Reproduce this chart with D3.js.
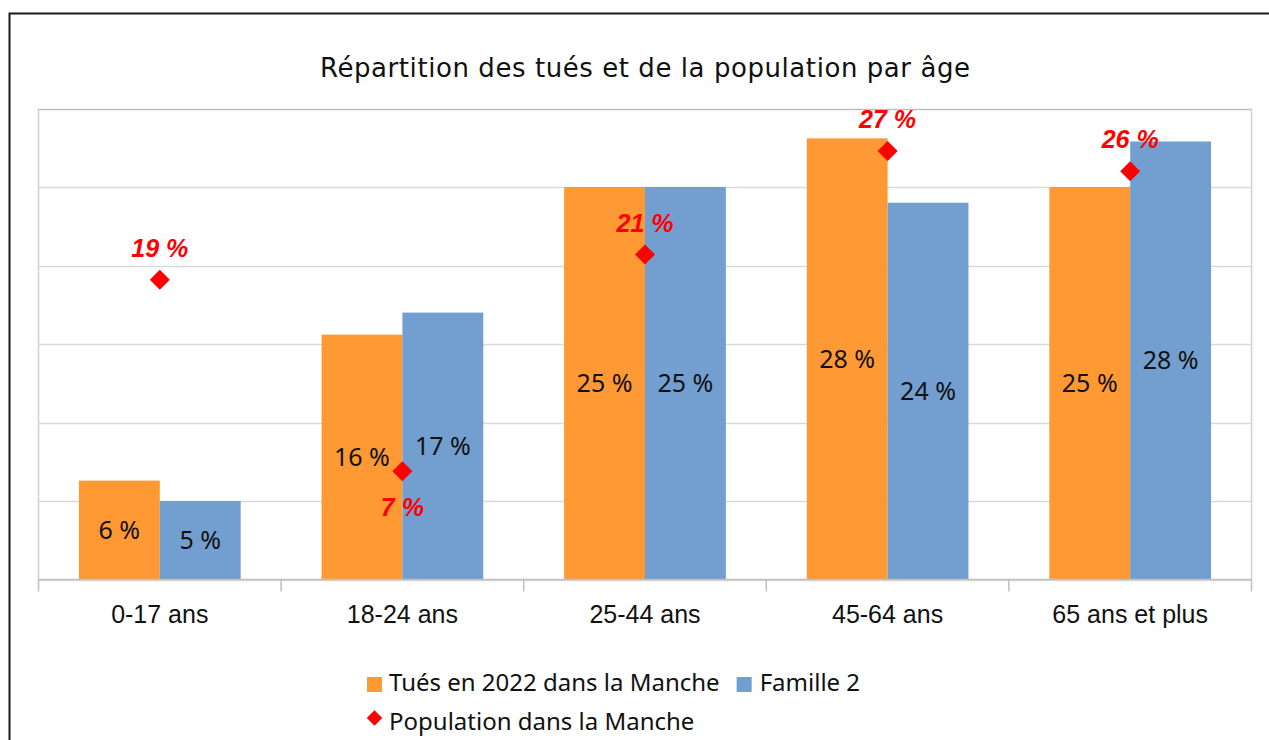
<!DOCTYPE html>
<html>
<head>
<meta charset="utf-8">
<script src="https://cdn.jsdelivr.net/npm/d3@7"></script>
<style>
  html, body { margin: 0; padding: 0; background: #fff; }
  svg { display: block; }
</style>
</head>
<body>
<svg id="chart" width="1269" height="740"></svg>
<script>
// Data (percent). Labels show the rounded value.
const categories = ["0-17 ans", "18-24 ans", "25-44 ans", "45-64 ans", "65 ans et plus"];
const tues = [6.3, 15.6, 25, 28.1, 25];
const famille2 = [5, 17, 25, 24, 27.9];
const population = [19.1, 6.9, 20.7, 27.3, 26];
const yTicks = [0, 5, 10, 15, 20, 25, 30];
const seriesNames = ["Tués en 2022 dans la Manche", "Famille 2", "Population dans la Manche"];

const ORANGE = "#ff9933",
    BLUE = "#729fcf",
    RED = "#ff0000",
    LABEL_FONT = "'Noto Sans', 'Open Sans', sans-serif",
    TITLE_FONT = "'DejaVu Sans', 'Noto Sans', sans-serif",
    AXIS_FONT = "'Liberation Sans', Arial, sans-serif";

const fmt = (v) => Math.round(v) + " %";

const svg = d3.select("#chart");

// Outer frame of the chart (runs off the right and bottom edges).
svg.append("rect")
    .attr("x", 9.5).attr("y", 13.5)
    .attr("width", 1300).attr("height", 800)
    .attr("fill", "none")
    .attr("stroke", "#1a1a1a")
    .attr("stroke-width", 2);

// Plot area.
const plot = { left: 38.5, right: 1251.5, top: 108.5, bottom: 579.5 };

const x = d3.scaleBand()
    .domain(categories)
    .range([plot.left, plot.right])
    .padding(0);

const bw = x.bandwidth();

// Two bars per category, gap of half a bar on each side.
const x1 = d3.scaleBand()
    .domain(["tues", "famille2"])
    .range([bw / 6, bw * 5 / 6])
    .padding(0);

const y = d3.scaleLinear()
    .domain([0, 30])
    .range([plot.bottom, plot.top]);

// Gridlines.
svg.append("g")
    .selectAll("line")
    .data(yTicks)
    .enter()
    .append("line")
    .attr("x1", plot.left)
    .attr("x2", plot.right)
    .attr("y1", (d) => Math.round(y(d)) + 0.5)
    .attr("y2", (d) => Math.round(y(d)) + 0.5)
    .attr("stroke", (d) => d == 30 ? "#bfbfbf" : "#d9d9d9")
    .attr("stroke-width", 1.5);

// Plot area sides.
svg.append("line")
    .attr("x1", plot.left).attr("x2", plot.left)
    .attr("y1", plot.top).attr("y2", plot.bottom)
    .attr("stroke", "#d0d0d0").attr("stroke-width", 1.5);
svg.append("line")
    .attr("x1", plot.right).attr("x2", plot.right)
    .attr("y1", plot.top).attr("y2", plot.bottom)
    .attr("stroke", "#d0d0d0").attr("stroke-width", 1.5);

// Bars.
const rows = categories.map((c, i) => ({ cat: c, tues: tues[i], famille2: famille2[i], pop: population[i] }));

const groups = svg.append("g")
    .selectAll("g")
    .data(rows)
    .enter()
    .append("g")
    .attr("transform", (d) => "translate(" + x(d.cat) + ",0)");

const bars = groups.selectAll("rect")
    .data((d) => [
        { key: "tues", value: d.tues, color: ORANGE },
        { key: "famille2", value: d.famille2, color: BLUE }
    ])
    .enter();

bars.append("rect")
    .attr("x", (d) => x1(d.key))
    .attr("y", (d) => y(d.value))
    .attr("width", x1.bandwidth())
    .attr("height", (d) => plot.bottom - y(d.value))
    .attr("fill", (d) => d.color);

// Bar value labels, centred in each bar.
bars.append("text")
    .attr("x", (d) => x1(d.key) + x1.bandwidth() / 2)
    .attr("y", (d) => (y(d.value) + plot.bottom) / 2)
    .attr("dy", "0.36em")
    .attr("text-anchor", "middle")
    .attr("font-family", LABEL_FONT)
    .attr("font-size", 25)
    .attr("fill", "#111")
    .text((d) => fmt(d.value));

// X axis line and tick marks.
svg.append("line")
    .attr("x1", plot.left).attr("x2", plot.right)
    .attr("y1", plot.bottom).attr("y2", plot.bottom)
    .attr("stroke", "#bfbfbf").attr("stroke-width", 1.5);

const boundaries = categories.map((c) => x(c)).concat([x(categories[categories.length - 1]) + bw]);
svg.append("g")
    .selectAll("line")
    .data(boundaries)
    .enter()
    .append("line")
    .attr("x1", (d) => d).attr("x2", (d) => d)
    .attr("y1", plot.bottom).attr("y2", plot.bottom + 12)
    .attr("stroke", "#bfbfbf").attr("stroke-width", 1.5);

// Category labels.
svg.append("g")
    .selectAll("text")
    .data(categories)
    .enter()
    .append("text")
    .attr("x", (d) => x(d) + bw / 2)
    .attr("y", 623)
    .attr("text-anchor", "middle")
    .attr("font-family", AXIS_FONT)
    .attr("font-size", 25)
    .attr("fill", "#111")
    .text((d) => d);

// Population markers (diamonds) and their red labels.
const diamond = d3.symbol().type(d3.symbolSquare).size(200);

const markers = svg.append("g")
    .selectAll("g")
    .data(rows)
    .enter()
    .append("g");

markers.append("path")
    .attr("d", diamond)
    .attr("transform", (d) => "translate(" + (x(d.cat) + bw / 2) + "," + y(d.pop) + ") rotate(45)")
    .attr("fill", RED);

// The 7 % label sits below its marker, the others above.
markers.append("text")
    .attr("x", (d) => x(d.cat) + bw / 2)
    .attr("y", (d) => y(d.pop) + (d.pop < 10 ? 36 : -32))
    .attr("dy", "0.36em")
    .attr("text-anchor", "middle")
    .attr("font-family", AXIS_FONT)
    .attr("font-size", 25)
    .attr("font-weight", "bold")
    .attr("font-style", "italic")
    .attr("fill", RED)
    .text((d) => fmt(d.pop));

// Title.
svg.append("text")
    .attr("x", 645)
    .attr("y", 77)
    .attr("text-anchor", "middle")
    .attr("font-family", TITLE_FONT)
    .attr("font-size", 26)
    .attr("fill", "#111")
    .attr("textLength", 650)
    .attr("lengthAdjust", "spacing")
    .text("Répartition des tués et de la population par âge");

// Legend.
const legend = svg.append("g").attr("font-family", LABEL_FONT).attr("font-size", 24).attr("fill", "#111");

legend.append("rect")
    .attr("x", 367).attr("y", 677).attr("width", 15).attr("height", 15)
    .attr("fill", ORANGE);
const t1 = legend.append("text")
    .attr("x", 389).attr("y", 691)
    .text(seriesNames[0]);

const second = 389 + t1.node().getComputedTextLength() + 17;
legend.append("rect")
    .attr("x", second).attr("y", 677).attr("width", 15).attr("height", 15)
    .attr("fill", BLUE);
legend.append("text")
    .attr("x", second + 23).attr("y", 691)
    .text(seriesNames[1]);

legend.append("path")
    .attr("d", d3.symbol().type(d3.symbolSquare).size(120))
    .attr("transform", "translate(374.5,718) rotate(45)")
    .attr("fill", RED);
legend.append("text")
    .attr("x", 389).attr("y", 730)
    .text(seriesNames[2]);
</script>
</body>
</html>
